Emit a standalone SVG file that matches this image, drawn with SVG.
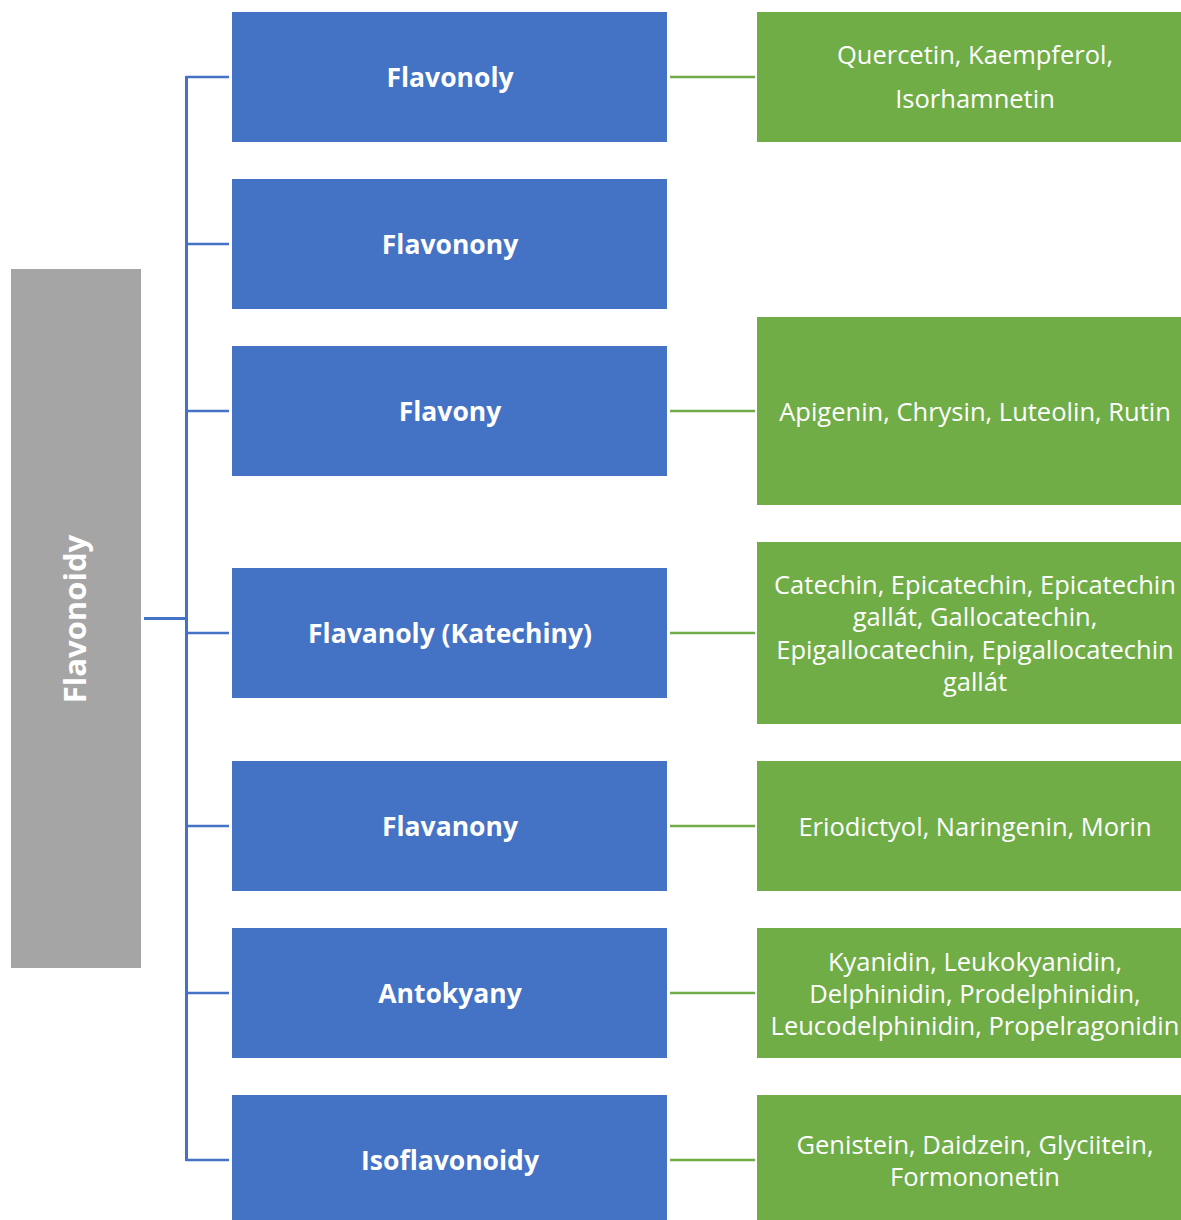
<svg xmlns="http://www.w3.org/2000/svg" width="1181" height="1220" viewBox="0 0 1181 1220">
  <style>
    .root { fill: #A5A5A5; }
    .cls { fill: #4472C4; }
    .ex { fill: #70AD47; }
    .t { font-family: "Open Sans", Lato, "Liberation Sans", sans-serif; fill: #FFFFFF; text-anchor: middle; dominant-baseline: central; }
    .tb { font-size: 26.5px; font-weight: bold; }
    .tr { font-size: 31px; font-weight: bold; }
    .tg { font-size: 25.5px; }
    .lb { stroke: #4472C4; fill: none; }
    .lg { stroke: #70AD47; stroke-width: 2.5; fill: none; }
  </style>
  <rect width="1181" height="1220" fill="#FFFFFF"/>

  <!-- connectors -->
  <g id="connectors">
    <line class="lb" x1="144" y1="618.5" x2="187" y2="618.5" stroke-width="3"/>
    <line class="lb" x1="186.5" y1="76" x2="186.5" y2="1161" stroke-width="3"/>
    <line class="lb" x1="186" y1="77" x2="229" y2="77" stroke-width="2.5"/>
    <line class="lb" x1="186" y1="244" x2="229" y2="244" stroke-width="2.5"/>
    <line class="lb" x1="186" y1="411" x2="229" y2="411" stroke-width="2.5"/>
    <line class="lb" x1="186" y1="633" x2="229" y2="633" stroke-width="2.5"/>
    <line class="lb" x1="186" y1="826" x2="229" y2="826" stroke-width="2.5"/>
    <line class="lb" x1="186" y1="993" x2="229" y2="993" stroke-width="2.5"/>
    <line class="lb" x1="186" y1="1160" x2="229" y2="1160" stroke-width="2.5"/>
    <line class="lg" x1="670" y1="77" x2="755" y2="77"/>
    <line class="lg" x1="670" y1="411" x2="755" y2="411"/>
    <line class="lg" x1="670" y1="633" x2="755" y2="633"/>
    <line class="lg" x1="670" y1="826" x2="755" y2="826"/>
    <line class="lg" x1="670" y1="993" x2="755" y2="993"/>
    <line class="lg" x1="670" y1="1160" x2="755" y2="1160"/>
  </g>

  <!-- root -->
  <g id="flavonoidy">
    <rect class="root" x="11" y="269" width="130" height="699"/>
    <text class="t tr" transform="translate(74 619) rotate(-90)" x="0" y="0">Flavonoidy</text>
  </g>

  <!-- classes -->
  <g id="flavonoly">
    <rect class="cls" x="232" y="12" width="435" height="130"/>
    <text class="t tb" x="450" y="77">Flavonoly</text>
  </g>
  <g id="flavonony">
    <rect class="cls" x="232" y="179" width="435" height="130"/>
    <text class="t tb" x="450" y="244">Flavonony</text>
  </g>
  <g id="flavony">
    <rect class="cls" x="232" y="346" width="435" height="130"/>
    <text class="t tb" x="450" y="411">Flavony</text>
  </g>
  <g id="flavanoly">
    <rect class="cls" x="232" y="568" width="435" height="130"/>
    <text class="t tb" x="450" y="633">Flavanoly (Katechiny)</text>
  </g>
  <g id="flavanony">
    <rect class="cls" x="232" y="761" width="435" height="130"/>
    <text class="t tb" x="450" y="826">Flavanony</text>
  </g>
  <g id="antokyany">
    <rect class="cls" x="232" y="928" width="435" height="130"/>
    <text class="t tb" x="450" y="993">Antokyany</text>
  </g>
  <g id="isoflavonoidy">
    <rect class="cls" x="232" y="1095" width="435" height="130"/>
    <text class="t tb" x="450" y="1160">Isoflavonoidy</text>
  </g>

  <!-- examples -->
  <g id="ex-flavonoly">
    <rect class="ex" x="757" y="12" width="424" height="130"/>
    <text class="t tg" x="975" y="54">Quercetin, Kaempferol,</text>
    <text class="t tg" x="975" y="98">Isorhamnetin</text>
  </g>
  <g id="ex-flavony">
    <rect class="ex" x="757" y="317" width="424" height="188"/>
    <text class="t tg" x="975" y="411">Apigenin, Chrysin, Luteolin, Rutin</text>
  </g>
  <g id="ex-flavanoly">
    <rect class="ex" x="757" y="542" width="424" height="182"/>
    <text class="t tg" x="975" y="584">Catechin, Epicatechin, Epicatechin</text>
    <text class="t tg" x="975" y="616">gallát, Gallocatechin,</text>
    <text class="t tg" x="975" y="649">Epigallocatechin, Epigallocatechin</text>
    <text class="t tg" x="975" y="681">gallát</text>
  </g>
  <g id="ex-flavanony">
    <rect class="ex" x="757" y="761" width="424" height="130"/>
    <text class="t tg" x="975" y="826">Eriodictyol, Naringenin, Morin</text>
  </g>
  <g id="ex-antokyany">
    <rect class="ex" x="757" y="928" width="424" height="130"/>
    <text class="t tg" x="975" y="961">Kyanidin, Leukokyanidin,</text>
    <text class="t tg" x="975" y="993">Delphinidin, Prodelphinidin,</text>
    <text class="t tg" x="975" y="1025">Leucodelphinidin, Propelragonidin</text>
  </g>
  <g id="ex-isoflavonoidy">
    <rect class="ex" x="757" y="1095" width="424" height="130"/>
    <text class="t tg" x="975" y="1144">Genistein, Daidzein, Glyciitein,</text>
    <text class="t tg" x="975" y="1176">Formononetin</text>
  </g>
</svg>
